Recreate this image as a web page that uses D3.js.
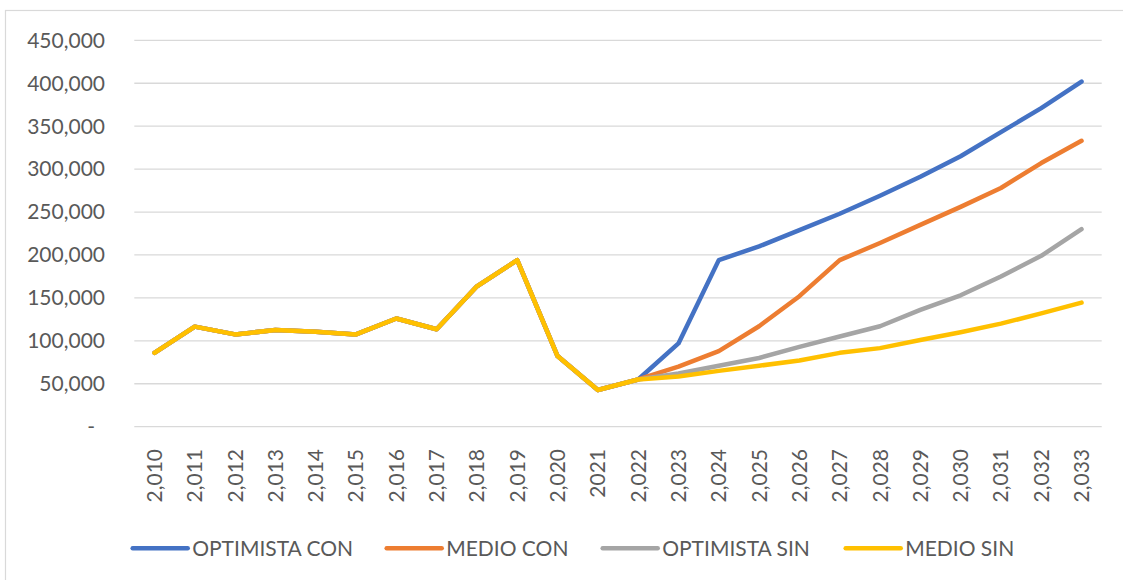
<!DOCTYPE html>
<html>
<head>
<meta charset="utf-8">
<script src="https://cdn.jsdelivr.net/npm/d3@7"></script>
<style>
  html, body { margin: 0; padding: 0; background: #fff; }
  svg { display: block; font-family: Lato, "Open Sans", sans-serif; }
</style>
</head>
<body>
<svg id="chart" width="1123" height="580"></svg>
<script>
// Years on the category axis and the labels printed under them
const years = d3.range(2010, 2034);
const xLabels = ["2,010", "2,011", "2,012", "2,013", "2,014", "2,015", "2,016", "2,017",
  "2,018", "2,019", "2,020", "2021", "2,022", "2,023", "2,024", "2,025", "2,026",
  "2,027", "2,028", "2,029", "2,030", "2,031", "2,032", "2,033"];

// Shared history 2010–2022
const history = [86000, 116500, 107500, 112500, 110500, 107500, 126000, 113500,
  163500, 194000, 82300, 42700, 55000];

// Scenario projections 2023–2033
const optimistaCon = [97000, 194000, 210000, 229000, 248000, 269000, 291000, 315000, 343000, 371000, 402000];
const medioCon     = [70000, 88000, 117000, 152000, 194000, 214000, 235000, 256000, 278000, 307000, 333000];
const optimistaSin = [62000, 71000, 80000, 93000, 105000, 117000, 136000, 153000, 175000, 199000, 230000];
const medioSin     = [58500, 65000, 71000, 77000, 86000, 91500, 101000, 110000, 120000, 132000, 144500];

const seriesNames = ["OPTIMISTA CON", "MEDIO CON", "OPTIMISTA SIN", "MEDIO SIN"];
const seriesColors = ["#4472C4", "#ED7D31", "#A5A5A5", "#FFC000"];
const yTicks = [0, 50000, 100000, 150000, 200000, 250000, 300000, 350000, 400000, 450000];

const series = [optimistaCon, medioCon, optimistaSin, medioSin].map((proj, i) => ({
  name: seriesNames[i],
  color: seriesColors[i],
  values: history.concat(proj)
}));

const svg = d3.select("#chart");
const textColor = "#595959";
const fontSize = 21;

// Outer chart frame
svg.append("rect")
  .attr("x", 5.5).attr("y", 10.5)
  .attr("width", 1130).attr("height", 600)
  .attr("fill", "#fff").attr("stroke", "#d9d9d9").attr("stroke-width", 1.2);

const plot = { left: 134.3, right: 1101.7, top: 40.3, bottom: 426.7 };

const x = d3.scaleBand().domain(years).range([plot.left, plot.right]);
const y = d3.scaleLinear().domain([0, 450000]).range([plot.bottom, plot.top]);
const cx = d => x(d) + x.bandwidth() / 2;

// Horizontal gridlines
svg.append("g")
  .selectAll("line")
  .data(yTicks)
  .join("line")
  .attr("x1", plot.left).attr("x2", plot.right)
  .attr("y1", d => y(d)).attr("y2", d => y(d))
  .attr("stroke", "#d9d9d9").attr("stroke-width", 1.3);

// Value axis labels
const fmt = d3.format(",");
svg.append("g")
  .selectAll("text")
  .data(yTicks)
  .join("text")
  .attr("x", d => d === 0 ? 95 : 105)
  .attr("y", d => y(d))
  .attr("dy", "0.35em")
  .attr("text-anchor", "end")
  .attr("fill", textColor)
  .attr("font-size", fontSize)
  .text(d => d === 0 ? "-" : fmt(d));

// Category axis labels, rotated
svg.append("g")
  .selectAll("text")
  .data(years)
  .join("text")
  .attr("transform", d => `translate(${cx(d) + 7.5},449) rotate(-90)`)
  .attr("text-anchor", "end")
  .attr("fill", textColor)
  .attr("font-size", fontSize)
  .text((d, i) => xLabels[i]);

// Series lines
const line = d3.line()
  .x((d, i) => cx(years[i]))
  .y(d => y(d));

svg.append("g")
  .selectAll("path")
  .data(series)
  .join("path")
  .attr("d", d => line(d.values))
  .attr("fill", "none")
  .attr("stroke", d => d.color)
  .attr("stroke-width", 4.5)
  .attr("stroke-linejoin", "round")
  .attr("stroke-linecap", "round");

// Legend
const legendX = [132.7, 386.7, 602.7, 845.7];
const legendY = 548.3;
const lg = svg.append("g")
  .selectAll("g")
  .data(series)
  .join("g")
  .attr("transform", (d, i) => `translate(${legendX[i]},${legendY})`);
lg.append("line")
  .attr("x1", 0).attr("x2", 55)
  .attr("stroke", d => d.color)
  .attr("stroke-width", 4.5)
  .attr("stroke-linecap", "round");
lg.append("text")
  .attr("x", 59.5)
  .attr("dy", "0.35em")
  .attr("fill", textColor)
  .attr("font-size", fontSize)
  .text(d => d.name);
</script>
</body>
</html>
